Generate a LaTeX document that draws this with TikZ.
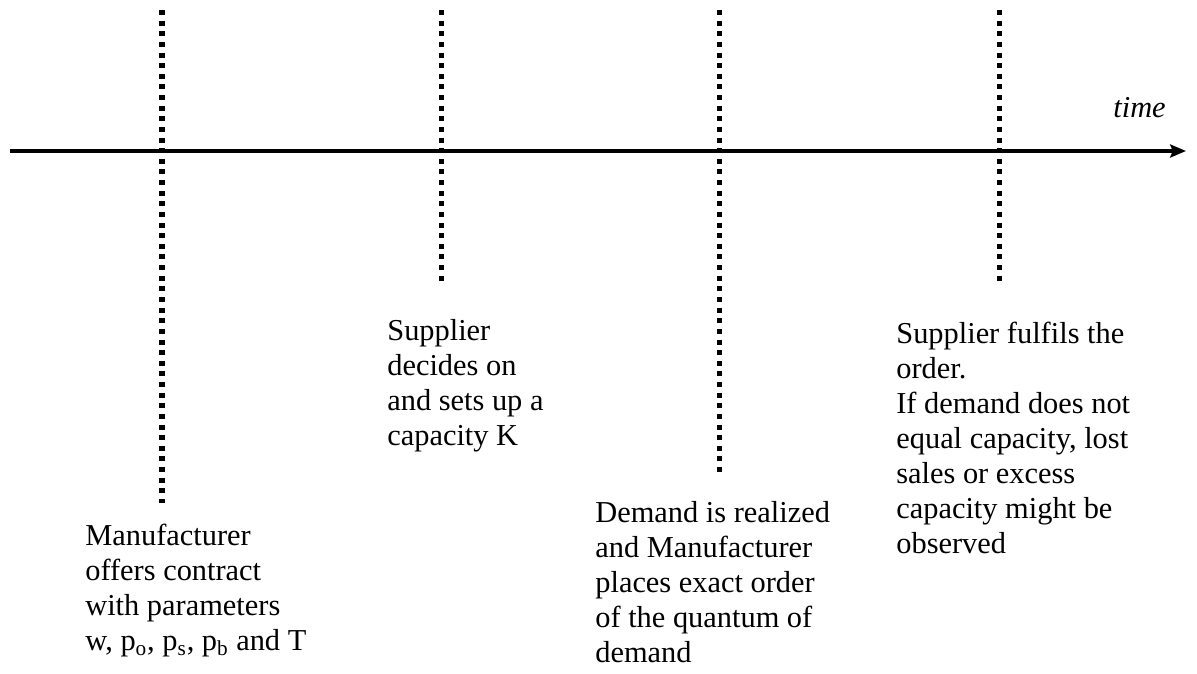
\documentclass[tikz,border=0pt]{standalone}
\usepackage{fontspec}
\setmainfont{Liberation Serif}
\usetikzlibrary{arrows.meta,positioning}

\begin{document}
\begin{tikzpicture}[x=0.02cm, y=-0.02cm,
  event/.style={line width=2.85pt, dash pattern=on 2.85pt off 3.2pt},
  axis/.style={line width=2.3pt, -{Stealth[length=9pt,width=7.4pt,inset=1.5pt]}},
  note/.style={anchor=north west, inner sep=0pt, align=left, font=\fontsize{17.3}{19.9}\selectfont}]

  \useasboundingbox (0,0) rectangle (1197,673);

  % time axis
  \coordinate (start) at (10,151);
  \coordinate (end) at (1186,151);
  \draw [axis] (start) -- (end);
  \node [anchor=base west, inner sep=0pt, font=\fontsize{17.3}{19.9}\selectfont\itshape] (time) at (1113,117) {time};

  % event markers
  \foreach \n/\x/\y in {contract/162/503, capacity/441/286, demand/719/475, fulfil/999/285} {
    \coordinate (\n top) at (\x,10);
    \coordinate (\n bot) at (\x,\y);
    \draw [event] (\n top) -- (\n bot);
  }

  \node [note] (contracttext) at (85,524) {Manufacturer\\ offers contract\\ with parameters\\ w, p\textsubscript{o}, p\textsubscript{s}, p\textsubscript{b} and T};
  \node [note] (capacitytext) at (387,319) {Supplier\\ decides on\\ and sets up a\\ capacity K};
  \node [note] (demandtext) at (595,501) {Demand is realized\\ and Manufacturer\\ places exact order\\ of the quantum of\\ demand};
  \node [note] (fulfiltext) at (896,322) {Supplier fulfils the\\ order.\\ If demand does not\\ equal capacity, lost\\ sales or excess\\ capacity might be\\ observed};
\end{tikzpicture}
\end{document}
